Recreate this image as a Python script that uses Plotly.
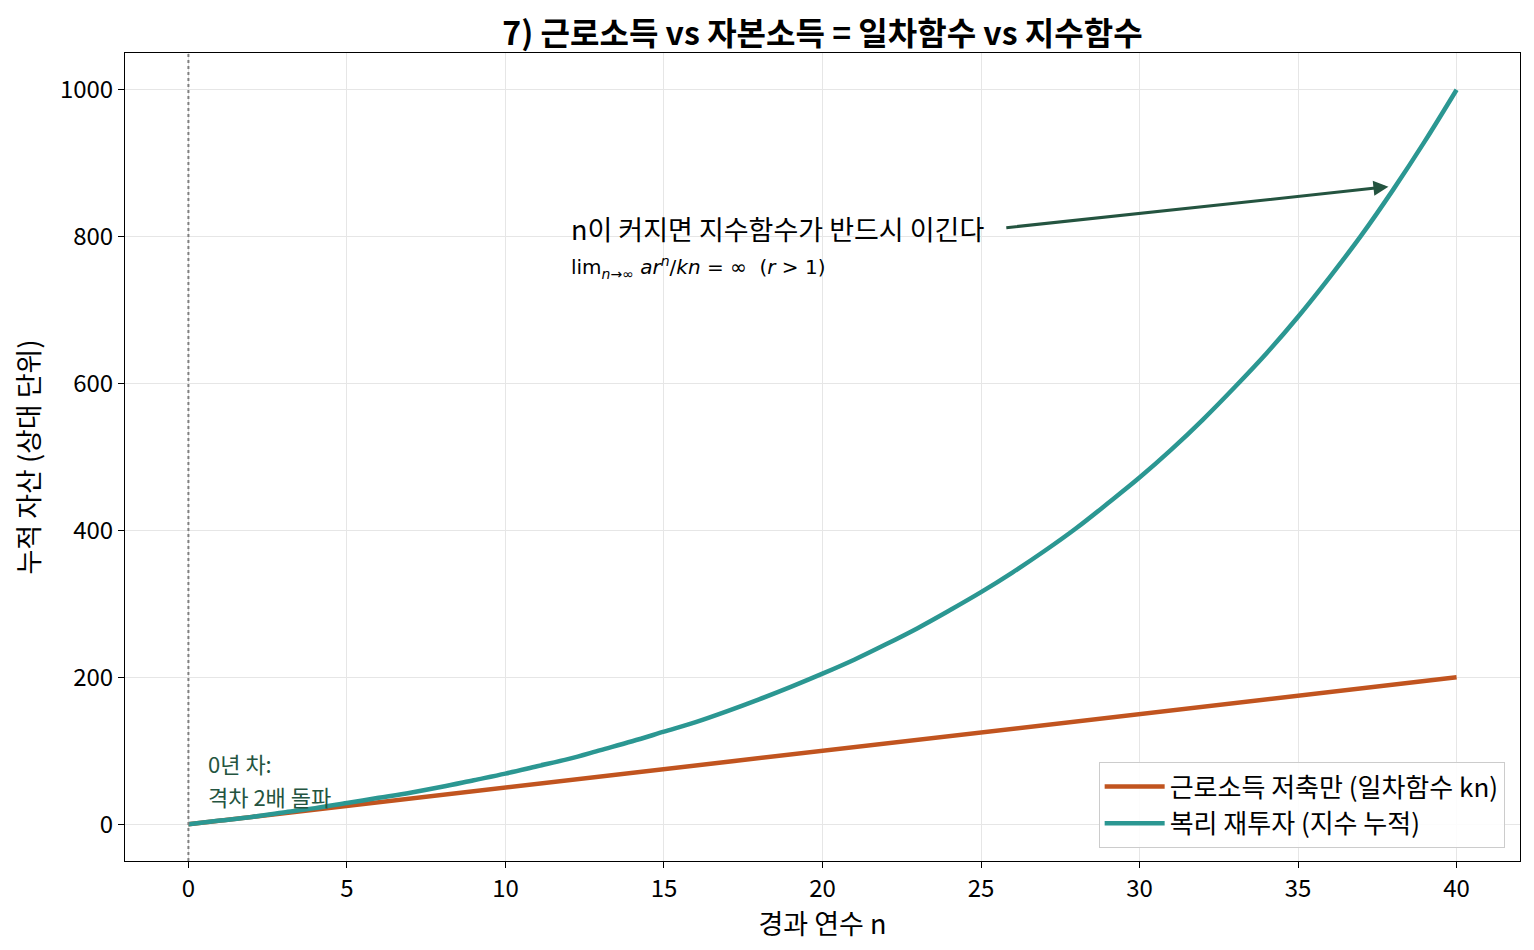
import plotly.graph_objects as go

# 경과 연수
years = list(range(0, 41))

# 근로소득 저축만 (일차함수 kn), k=5
labor = [0, 5, 10, 15, 20, 25, 30, 35, 40, 45, 50, 55, 60, 65, 70, 75, 80, 85, 90, 95,
         100, 105, 110, 115, 120, 125, 130, 135, 140, 145, 150, 155, 160, 165, 170,
         175, 180, 185, 190, 195, 200]

# 복리 재투자 (지수 누적) - 그림에서 읽은 값
capital = [0, 5, 10, 16, 22, 29, 36, 43, 51, 60, 69, 79, 89, 101, 113, 126, 139, 154,
           170, 187, 205, 224, 245, 267, 291, 316, 343, 372, 403, 437, 472, 510, 551,
           595, 641, 691, 745, 802, 864, 930, 1000]

x_ticks = [0, 5, 10, 15, 20, 25, 30, 35, 40]
y_ticks = [0, 200, 400, 600, 800, 1000]

FONT = "Noto Sans CJK KR"
ORANGE = "#c1541f"
TEAL = "#2b9792"
DARKGREEN = "#245440"

fig = go.Figure()
fig.add_trace(go.Scatter(x=years, y=labor, mode="lines", name="근로소득 저축만 (일차함수 kn)",
                         line=dict(color=ORANGE, width=4.5)))
fig.add_trace(go.Scatter(x=years, y=capital, mode="lines", name="복리 재투자 (지수 누적)",
                         line=dict(color=TEAL, width=4.5, shape="spline")))

# x=0 점선
fig.add_shape(type="line", x0=0, x1=0, y0=0, y1=1, xref="x", yref="paper",
              line=dict(color="gray", width=2, dash="dot"))

# 0년 차 메모 (두 줄)
fig.add_annotation(x=0.6, y=84, xref="x", yref="y", text="0년 차:",
                   showarrow=False, xanchor="left", yanchor="middle", borderpad=0,
                   font=dict(family=FONT, size=22, color=DARKGREEN))
fig.add_annotation(x=0.6, y=39, xref="x", yref="y", text="격차 2배 돌파",
                   showarrow=False, xanchor="left", yanchor="middle", borderpad=0,
                   font=dict(family=FONT, size=22, color=DARKGREEN))

# 화살표
fig.add_annotation(x=37.85, y=868, ax=25.75, ay=812, xref="x", yref="y",
                   axref="x", ayref="y", text="", showarrow=True,
                   arrowhead=2, arrowsize=1, arrowwidth=3, arrowcolor=DARKGREEN)

fig.add_annotation(x=12, y=811, xref="x", yref="y", text="n이 커지면 지수함수가 반드시 이긴다",
                   showarrow=False, xanchor="left", yanchor="middle",
                   font=dict(family=FONT, size=27, color="black"))
fig.add_annotation(x=12, y=758, xref="x", yref="y",
                   text="lim<sub><i>n</i>→∞</sub> <i>ar<sup>n</sup></i>/<i>kn</i> = ∞  (<i>r</i> > 1)",
                   showarrow=False, xanchor="left", yanchor="middle",
                   font=dict(family="DejaVu Sans", size=20, color="black"))

fig.update_layout(
    width=1518, height=934,
    paper_bgcolor="white", plot_bgcolor="white",
    margin=dict(l=117, r=6, t=45, b=81),
    font=dict(family=FONT, size=24, color="black"),
    title=dict(text="<b>7) 근로소득 vs 자본소득 = 일차함수 vs 지수함수</b>",
               xref="paper", x=0.5, xanchor="center", y=0.972, yanchor="middle",
               font=dict(family=FONT, size=32, color="black")),
    legend=dict(x=0.989, y=0.016, xanchor="right", yanchor="bottom",
                bgcolor="rgba(255,255,255,0.85)", bordercolor="#cccccc", borderwidth=1,
                itemwidth=60, tracegroupgap=4,
                font=dict(family=FONT, size=26)),
    showlegend=True,
)
fig.update_xaxes(range=[-2, 42], tickvals=x_ticks, showgrid=True, gridcolor="#e6e6e6",
                 zeroline=False, showline=True, mirror=True, linecolor="black", linewidth=1,
                 ticks="outside", ticklen=6, tickcolor="black", tickfont=dict(size=24),
                 title=dict(text="경과 연수 n", font=dict(size=27), standoff=4))
fig.update_yaxes(range=[-50, 1050], tickvals=y_ticks, showgrid=True, gridcolor="#e6e6e6",
                 zeroline=False, showline=True, mirror=True, linecolor="black", linewidth=1,
                 ticks="outside", ticklen=6, tickcolor="black", tickfont=dict(size=24),
                 title=dict(text="누적 자산 (상대 단위)", font=dict(size=27), standoff=14))

fig.write_html("out.html")
